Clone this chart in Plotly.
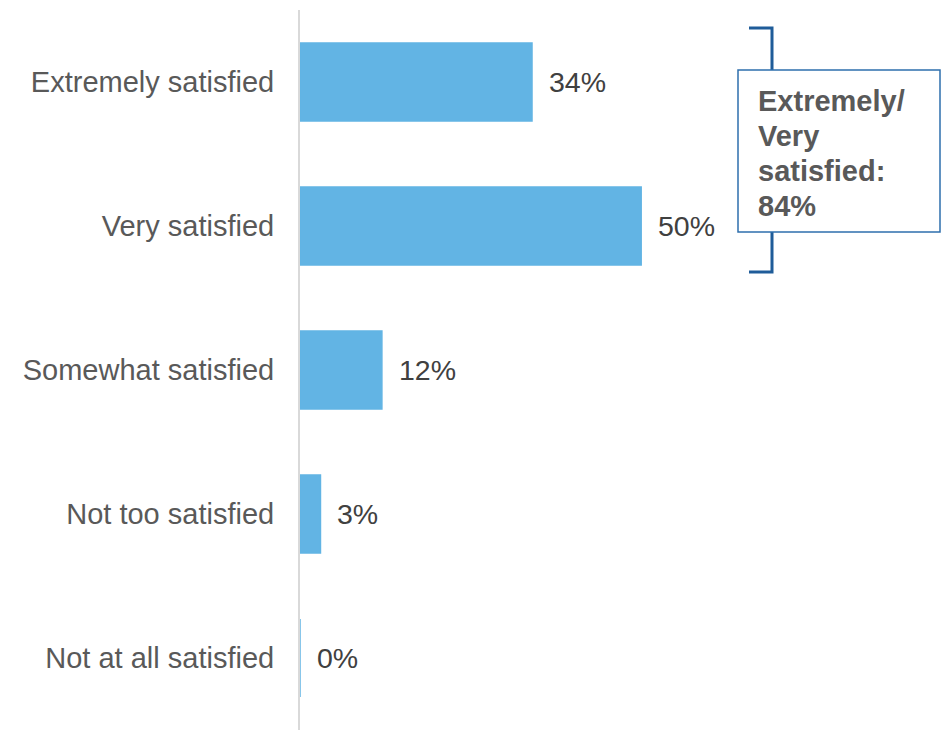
import plotly.graph_objects as go

# Survey response categories and shares (%)
categories = ["Extremely satisfied", "Very satisfied", "Somewhat satisfied",
              "Not too satisfied", "Not at all satisfied"]
values = [34, 50, 12, 3, 0]
value_labels = ["34%", "50%", "12%", "3%", "0%"]

summary_lines = ["Extremely/", "Very", "satisfied:", "84%"]

BAR_COLOR = "#62b4e4"
LABEL_COLOR = "#595959"
VALUE_COLOR = "#404040"
FONT = "Liberation Sans, Arial, sans-serif"

# Plot-area geometry (pixels) used to place paper-referenced callout items
W, H = 951, 736
ML, MR, MT, MB = 300, 0, 10, 6
PW, PH = W - ML - MR, H - MT - MB


def px(x):
    return (x - ML) / PW


def py(y):
    return 1 - (y - MT) / PH


fig = go.Figure()
fig.add_trace(go.Bar(
    y=categories,
    x=values,
    orientation="h",
    marker=dict(color=BAR_COLOR, line=dict(color=BAR_COLOR, width=1.5)),
    width=0.54,
    hoverinfo="skip",
))

# Value labels just past the end of each bar
for cat, v, lab in zip(categories, values, value_labels):
    fig.add_annotation(
        x=v, y=cat, text=lab, showarrow=False,
        xanchor="left", yanchor="middle", xshift=15,
        font=dict(family=FONT, size=28.5, color=VALUE_COLOR),
    )

# Bracket grouping the top two categories
bracket_color = "#1f5c99"
fig.add_shape(type="path", xref="paper", yref="paper",
              path=(f"M {px(749)} {py(28)} L {px(772)} {py(28)} "
                    f"L {px(772)} {py(272)} L {px(749)} {py(272)}"),
              line=dict(color=bracket_color, width=3))

# Summary callout box
fig.add_shape(type="rect", xref="paper", yref="paper",
              x0=px(738), x1=px(940), y0=py(232), y1=py(70),
              line=dict(color="#2e6fad", width=1.5), fillcolor="white")

for i, line in enumerate(summary_lines):
    fig.add_annotation(
        xref="paper", yref="paper", x=px(756), y=py(101 + 35 * i),
        xanchor="left", yanchor="middle",
        text=line, showarrow=False, align="left",
        font=dict(family=FONT, size=29, color=LABEL_COLOR, weight="bold"),
    )

fig.update_layout(
    width=W, height=H,
    margin=dict(l=ML, r=MR, t=MT, b=MB),
    paper_bgcolor="white", plot_bgcolor="white",
    showlegend=False,
    font=dict(family=FONT),
    xaxis=dict(range=[0, 95.4], visible=False, fixedrange=True),
    yaxis=dict(
        categoryorder="array", categoryarray=categories,
        autorange="reversed",
        showline=True, linecolor="#d9d9d9", linewidth=2,
        showgrid=False, zeroline=False, ticks="",
        ticklabelstandoff=18,
        tickfont=dict(family=FONT, size=29, color=LABEL_COLOR),
    ),
)

fig.write_html("out.html")
